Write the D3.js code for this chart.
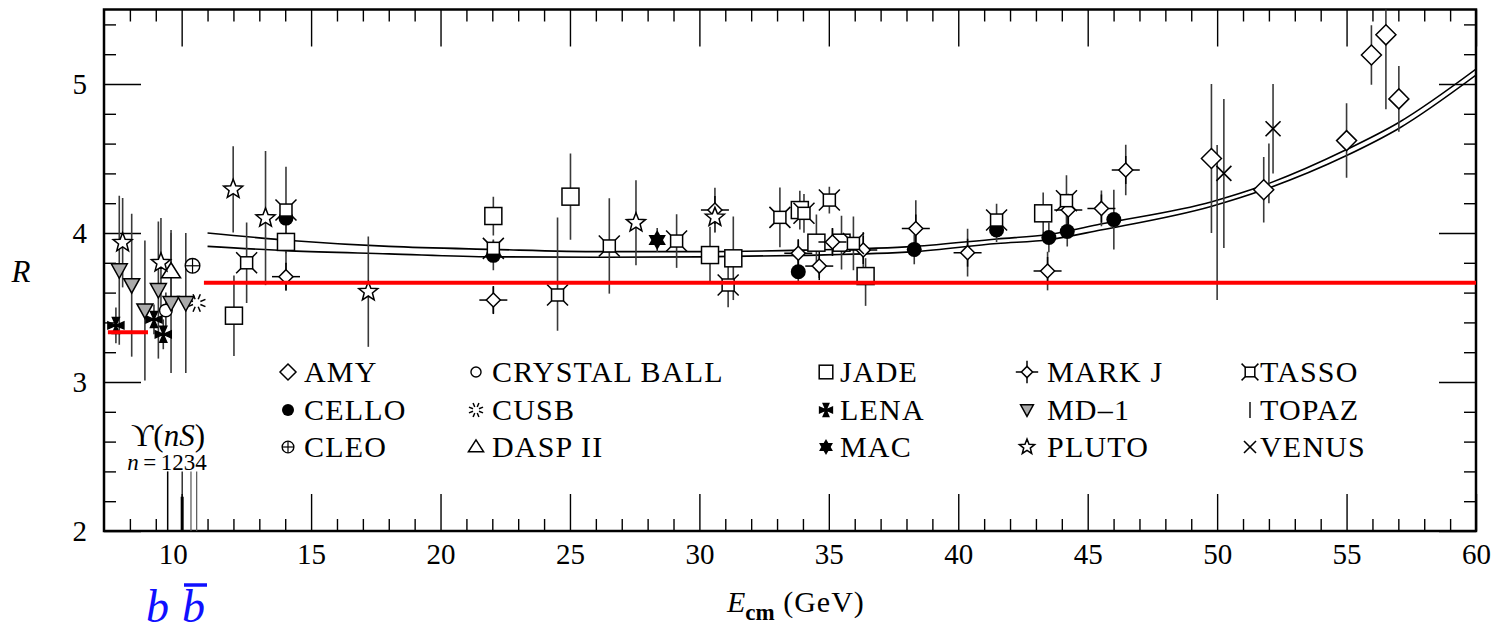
<!DOCTYPE html>
<html>
<head>
<meta charset="utf-8">
<script src="https://cdn.jsdelivr.net/npm/d3@7"></script>
<style>
  body { margin: 0; background: #fff; }
</style>
</head>
<body>
<svg id="chart" width="1499" height="636" style="font-family: 'Liberation Serif', 'DejaVu Serif', 'Times New Roman', serif;"></svg>
<script>
// measurements: [E_cm, R, error down, error up]
const amy = [[49.78, 4.50, 0.5, 0.5], [51.8, 4.29, 0.22, 0.22], [55.0, 4.62, 0.25, 0.25],
  [55.96, 5.195, 0.2, 0.2], [56.52, 5.33, 0.5, 0.5], [57.02, 4.90, 0.22, 0.22]];
const cello = [[14.03, 4.10, 0.08, 0.08], [22.04, 3.85, 0.1, 0.1], [33.82, 3.74, 0.08, 0.08],
  [38.3, 3.89, 0.1, 0.1], [41.48, 4.02, 0.08, 0.08], [43.5, 3.97, 0.1, 0.1],
  [44.21, 4.01, 0.1, 0.1], [46.01, 4.09, 0.2, 0.2]];
const cleo = [[10.42, 3.78, 0, 0]];
const crystalBall = [[9.39, 3.48, 0.12, 0.12]];
const cusb = [[10.58, 3.53, 0, 0]];
const daspII = [[9.59, 3.74, 0.28, 0.28]];
const jade = [[12.02, 3.445, 0.27, 0.27], [14.03, 3.94, 0.15, 0.15], [22.04, 4.114, 0.13, 0.13],
  [25.02, 4.244, 0.29, 0.29], [30.41, 3.852, 0.19, 0.19], [31.31, 3.83, 0.28, 0.28],
  [33.88, 4.154, 0.13, 0.13], [34.52, 3.935, 0.19, 0.19], [35.49, 3.935, 0.18, 0.18],
  [36.42, 3.711, 0.2, 0.12], [43.28, 4.132, 0.14, 0.14]];
const lena = [[7.46, 3.38, 0.12, 0.12], [8.93, 3.42, 0.1, 0.1], [9.29, 3.32, 0.1, 0.1]];
const mac = [[28.37, 3.953, 0.08, 0.08]];
const markJ = [[14.03, 3.707, 0.09, 0.09], [22.04, 3.55, 0.09, 0.09], [30.6, 4.154, 0.15, 0.15],
  [33.82, 3.864, 0.09, 0.09], [34.63, 3.778, 0.08, 0.08], [35.14, 3.94, 0.09, 0.09],
  [36.33, 3.886, 0.12, 0.12], [38.36, 4.03, 0.19, 0.19], [40.36, 3.868, 0.16, 0.16],
  [43.45, 3.745, 0.13, 0.13], [44.25, 4.154, 0.11, 0.11], [45.53, 4.165, 0.12, 0.12],
  [46.47, 4.423, 0.17, 0.17]];
const md1 = [[7.59, 3.75, 0.5, 0.5], [8.07, 3.65, 0.48, 0.48], [8.58, 3.48, 0.47, 0.47],
  [9.10, 3.617, 0.46, 0.46], [9.59, 3.53, 0.47, 0.47], [10.16, 3.53, 0.47, 0.47]];
const pluto = [[7.72, 3.935, 0.3, 0.3], [9.2, 3.80, 0.3, 0.3], [11.99, 4.293, 0.29, 0.29],
  [13.24, 4.10, 0.45, 0.45], [17.21, 3.606, 0.37, 0.37], [27.55, 4.069, 0.285, 0.285],
  [30.6, 4.105, 0.1, 0.1]];
const tasso = [[12.51, 3.80, 0.27, 0.27], [14.03, 4.154, 0.29, 0.29], [22.04, 3.897, 0.06, 0.06],
  [24.52, 3.584, 0.24, 0.52], [26.52, 3.913, 0.32, 0.32], [29.12, 3.946, 0.18, 0.18],
  [31.11, 3.651, 0.15, 0.15], [33.11, 4.105, 0.2, 0.2], [34.04, 4.132, 0.13, 0.13],
  [35.02, 4.221, 0.09, 0.09], [35.95, 3.93, 0.18, 0.18], [41.48, 4.087, 0.11, 0.11],
  [44.18, 4.217, 0.17, 0.17]];
const topaz = [[50.0, 4.07, 0.52, 0.52], [52.0, 4.40, 0.2, 0.2]];
const venus = [[50.26, 4.40, 0.5, 0.5], [52.16, 4.70, 0.3, 0.3]];

// theory curves
const curveE = [11.0, 14.2, 18, 22, 26.2, 30, 34, 38.3, 41.5, 43.5, 45.5, 49.8, 51.8, 55, 57, 60];
const curveUpper = [4.00, 3.95, 3.91, 3.89, 3.875, 3.875, 3.885, 3.91, 3.96, 3.99, 4.06, 4.21, 4.32, 4.56, 4.74, 5.10];
const curveLower = [3.91, 3.88, 3.86, 3.84, 3.837, 3.84, 3.85, 3.875, 3.93, 3.955, 4.02, 4.18, 4.29, 4.52, 4.70, 5.06];

// parton-model levels (red) and Upsilon resonances
const redStart = [7.15, 10.86];
const redEnd = [8.7, 60];
const redLevel = [10 / 3, 11 / 3];
const upsilonMass = [9.46, 10.02, 10.36, 10.58];
const upsilonTop = [2.40, 2.40, 2.40, 2.40];

const xTicks = [10, 15, 20, 25, 30, 35, 40, 45, 50, 55, 60];
const yTicks = [2, 3, 4, 5];

const series = [
  {name: "AMY", data: amy}, {name: "CELLO", data: cello}, {name: "CLEO", data: cleo},
  {name: "CRYSTAL BALL", data: crystalBall}, {name: "CUSB", data: cusb}, {name: "DASP II", data: daspII},
  {name: "JADE", data: jade}, {name: "LENA", data: lena}, {name: "MAC", data: mac},
  {name: "MARK J", data: markJ}, {name: "MD-1", data: md1}, {name: "PLUTO", data: pluto},
  {name: "TASSO", data: tasso}, {name: "TOPAZ", data: topaz}, {name: "VENUS", data: venus}
];
const legendLabels = ["AMY", "CELLO", "CLEO", "CRYSTAL BALL", "CUSB", "DASP II", "JADE", "LENA", "MAC",
  "MARK J", "MD\u20131", "PLUTO", "TASSO", "TOPAZ", "VENUS"];

const FONT = "'Liberation Serif', 'DejaVu Serif', 'Times New Roman', serif";
const svg = d3.select("#chart");
const plotL = 104, plotR = 1476, plotT = 9.5, plotB = 531;
const x = d3.scaleLinear().domain([7, 60]).range([plotL, plotR]);
const y = d3.scaleLinear().domain([2, 5.5]).range([plotB, plotT]);

svg.append("defs").append("clipPath").attr("id", "plotclip")
  .append("rect").attr("x", plotL).attr("y", plotT).attr("width", plotR - plotL).attr("height", plotB - plotT);

// ---------- axes ----------
const xMinor = d3.range(8, 60).filter(v => v % 5 !== 0);
const yMinor = d3.range(2.2, 5.5, 0.2).filter(v => Math.abs(v - Math.round(v)) > 0.01);

function styleAxis(g) {
  g.attr("font-family", null).attr("font-size", null);
  g.select(".domain").remove();
  g.selectAll(".tick line").attr("stroke", "#000").attr("stroke-width", 1.4);
  g.selectAll(".tick text").style("font-size", "29px").attr("fill", "#000");
}

svg.append("g").attr("transform", `translate(0,${plotB})`)
  .call(d3.axisBottom(x).tickValues(xTicks).tickSize(-37).tickPadding(12).tickFormat(d3.format("d")))
  .call(styleAxis)
  .selectAll(".tick text").attr("dx", d => d === 10 ? -9 : 0);
svg.append("g").attr("transform", `translate(0,${plotB})`)
  .call(d3.axisBottom(x).tickValues(xMinor).tickSize(-12).tickFormat(""))
  .call(styleAxis);
svg.append("g").attr("transform", `translate(0,${plotT})`)
  .call(d3.axisTop(x).tickValues(xTicks).tickSize(-37).tickFormat(""))
  .call(styleAxis);
svg.append("g").attr("transform", `translate(0,${plotT})`)
  .call(d3.axisTop(x).tickValues(xMinor).tickSize(-12).tickFormat(""))
  .call(styleAxis);
svg.append("g").attr("transform", `translate(${plotL},0)`)
  .call(d3.axisLeft(y).tickValues(yTicks).tickSize(-37).tickPadding(17).tickFormat(d3.format("d")))
  .call(styleAxis);
svg.append("g").attr("transform", `translate(${plotL},0)`)
  .call(d3.axisLeft(y).tickValues(yMinor).tickSize(-12).tickFormat(""))
  .call(styleAxis);
svg.append("g").attr("transform", `translate(${plotR},0)`)
  .call(d3.axisRight(y).tickValues(yTicks).tickSize(-37).tickFormat(""))
  .call(styleAxis);
svg.append("g").attr("transform", `translate(${plotR},0)`)
  .call(d3.axisRight(y).tickValues(yMinor).tickSize(-12).tickFormat(""))
  .call(styleAxis);

svg.append("rect").attr("x", plotL).attr("y", plotT).attr("width", plotR - plotL).attr("height", plotB - plotT)
  .attr("fill", "none").attr("stroke", "#000").attr("stroke-width", 2.5);

// axis titles
svg.append("text").attr("x", 21).attr("y", 282).attr("text-anchor", "middle")
  .style("font-size", "31px").style("font-style", "italic").text("R");

const xt = svg.append("text").attr("x", 727).attr("y", 612).style("font-size", "30px");
xt.append("tspan").style("font-style", "italic").text("E");
xt.append("tspan").attr("dy", 8).style("font-size", "23px").style("font-weight", "bold").text("cm");
xt.append("tspan").attr("dy", -8).style("letter-spacing", "1px").text(" (GeV)");

// b bbar
svg.append("text").attr("x", 146).attr("y", 622).style("font-size", "46px").style("font-style", "italic")
  .style("fill", "#1010ff").text("b");
svg.append("text").attr("x", 182).attr("y", 622).style("font-size", "46px").style("font-style", "italic")
  .style("fill", "#1010ff").text("b");
svg.append("line").attr("x1", 184).attr("x2", 207).attr("y1", 585).attr("y2", 585)
  .attr("stroke", "#1010ff").attr("stroke-width", 3.5);

// ---------- plot content ----------
const plot = svg.append("g").attr("clip-path", "url(#plotclip)");

// Upsilon resonances
plot.selectAll(".ups").data(upsilonMass).enter().append("line")
  .attr("x1", d => x(d)).attr("x2", d => x(d))
  .attr("y1", (d, i) => y(upsilonTop[i])).attr("y2", y(2))
  .attr("stroke", (d, i) => i < 2 ? "#000" : "#555").attr("stroke-width", (d, i) => i === 0 ? 1.5 : 1.2);
plot.append("line").attr("x1", x(upsilonMass[1])).attr("x2", x(upsilonMass[1]))
  .attr("y1", y(2.23)).attr("y2", y(2)).attr("stroke", "#000").attr("stroke-width", 3);

const ut = svg.append("text").attr("x", 168).attr("y", 446).attr("text-anchor", "middle").style("font-size", "31px");
ut.append("tspan").text("\u03D2(");
ut.append("tspan").style("font-style", "italic").text("nS");
ut.append("tspan").text(")");
const nt = svg.append("text").attr("x", 167).attr("y", 470).attr("text-anchor", "middle").style("font-size", "23px");
nt.append("tspan").style("font-style", "italic").text("n");
nt.append("tspan").text("\u2009=\u20091234");

// theory curves
const line = d3.line().x(d => x(d[0])).y(d => y(d[1])).curve(d3.curveMonotoneX);
[curveUpper, curveLower].forEach(c => {
  plot.append("path").datum(curveE.map((e, i) => [e, c[i]])).attr("d", line)
    .attr("fill", "none").attr("stroke", "#000").attr("stroke-width", 1.6);
});

// error bars
series.forEach(s => {
  plot.selectAll(null).data(s.data.filter(d => d[2] > 0 || d[3] > 0)).enter().append("line")
    .attr("x1", d => x(d[0])).attr("x2", d => x(d[0]))
    .attr("y1", d => y(d[1] + d[3])).attr("y2", d => y(d[1] - d[2]))
    .attr("stroke", "#3a3a3a").attr("stroke-width", 1.6);
});

function starPath(ro, ri, n) {
  const pts = [];
  for (let i = 0; i < 2 * n; i++) {
    const a = -Math.PI / 2 + i * Math.PI / n;
    const r = i % 2 ? ri : ro;
    pts.push([r * Math.cos(a), r * Math.sin(a)]);
  }
  return "M" + pts.map(p => p[0].toFixed(2) + "," + p[1].toFixed(2)).join("L") + "Z";
}

function drawMarker(g, type, k) {
  const s = v => v * k;
  const ln = (x1, y1, x2, y2, w) => g.append("line").attr("x1", s(x1)).attr("y1", s(y1))
    .attr("x2", s(x2)).attr("y2", s(y2)).attr("stroke", "#000").attr("stroke-width", w || 1.5);
  const pth = (d, fill) => g.append("path").attr("d", d).attr("fill", fill)
    .attr("stroke", "#000").attr("stroke-width", 1.5).attr("stroke-linejoin", "miter");
  switch (type) {
    case "AMY":
      pth(`M0,${s(-10)}L${s(10)},0L0,${s(10)}L${s(-10)},0Z`, "#fff"); break;
    case "CELLO":
      g.append("circle").attr("r", s(7.5)).attr("fill", "#000"); break;
    case "CLEO":
      g.append("circle").attr("r", s(7.3)).attr("fill", "#fff").attr("stroke", "#000").attr("stroke-width", 1.4);
      ln(-7.3, 0, 7.3, 0, 1.2); ln(0, -7.3, 0, 7.3, 1.2); break;
    case "CRYSTAL BALL":
      g.append("circle").attr("r", s(6.3)).attr("fill", "#fff").attr("stroke", "#000").attr("stroke-width", 1.4); break;
    case "CUSB":
      for (let i = 0; i < 8; i++) {
        const a = i * Math.PI / 4 + Math.PI / 8;
        ln(4 * Math.cos(a), 4 * Math.sin(a), 9.5 * Math.cos(a), 9.5 * Math.sin(a), 1.5);
      }
      break;
    case "DASP II":
      pth(`M0,${s(-9)}L${s(9.5)},${s(6)}L${s(-9.5)},${s(6)}Z`, "#fff"); break;
    case "JADE":
      g.append("rect").attr("x", s(-8.5)).attr("y", s(-8.5)).attr("width", s(17)).attr("height", s(17))
        .attr("fill", "#fff").attr("stroke", "#000").attr("stroke-width", 1.5); break;
    case "LENA":
      pth(`M0,0L${s(-3.5)},${s(-8)}L${s(3.5)},${s(-8)}Z M0,0L${s(8)},${s(-3.5)}L${s(8)},${s(3.5)}Z ` +
        `M0,0L${s(3.5)},${s(8)}L${s(-3.5)},${s(8)}Z M0,0L${s(-8)},${s(3.5)}L${s(-8)},${s(-3.5)}Z`, "#000"); break;
    case "MAC":
      g.append("path").attr("d", `M0,${s(-10)}L${s(8.7)},${s(5)}L${s(-8.7)},${s(5)}Z`).attr("fill", "#000");
      g.append("path").attr("d", `M0,${s(10)}L${s(-8.7)},${s(-5)}L${s(8.7)},${s(-5)}Z`).attr("fill", "#000");
      break;
    case "MARK J":
      ln(-14, 0, -6.5, 0); ln(6.5, 0, 14, 0); ln(0, -14, 0, -6.5); ln(0, 6.5, 0, 14);
      pth(`M0,${s(-7)}L${s(7)},0L0,${s(7)}L${s(-7)},0Z`, "#fff"); break;
    case "MD-1":
      pth(`M${s(-8)},${s(-6.5)}L${s(8)},${s(-6.5)}L0,${s(8)}Z`, "#aaaaaa"); break;
    case "PLUTO":
      pth(starPath(s(10), s(4.3), 5), "#fff"); break;
    case "TASSO":
      ln(-6, -6, -10.5, -10.5); ln(6, -6, 10.5, -10.5); ln(6, 6, 10.5, 10.5); ln(-6, 6, -10.5, 10.5);
      g.append("rect").attr("x", s(-6)).attr("y", s(-6)).attr("width", s(12)).attr("height", s(12))
        .attr("fill", "#fff").attr("stroke", "#000").attr("stroke-width", 1.5); break;
    case "TOPAZ":
      if (k < 1) ln(0, -10, 0, 10, 1.4);
      break;
    case "VENUS":
      ln(-7.5, -7.5, 7.5, 7.5, 1.6); ln(-7.5, 7.5, 7.5, -7.5, 1.6); break;
  }
}

// markers
series.forEach(s => {
  plot.selectAll(null).data(s.data).enter().append("g")
    .attr("transform", d => `translate(${x(d[0])},${y(d[1])})`)
    .each(function () { drawMarker(d3.select(this), s.name, 1); });
});

// red levels
plot.selectAll(".red").data(redLevel).enter().append("line")
  .attr("x1", (d, i) => x(redStart[i])).attr("x2", (d, i) => x(redEnd[i]))
  .attr("y1", d => y(d)).attr("y2", d => y(d))
  .attr("stroke", "#ff0000").attr("stroke-width", 4);

// ---------- legend ----------
const legSymX = [288, 476, 826, 1027, 1250];
const legTextX = [16, 16, 14, 20, 10];
const legRowY = [372, 410, 447];
series.forEach((s, i) => {
  const col = Math.floor(i / 3), row = i % 3;
  const g = svg.append("g").attr("transform", `translate(${legSymX[col]},${legRowY[row]})`);
  drawMarker(g.append("g"), s.name, 0.8);
  g.append("text").attr("x", legTextX[col]).attr("y", 10).style("font-size", "30px")
    .style("letter-spacing", "1.2px").text(legendLabels[i]);
});

svg.selectAll("text").style("font-family", FONT);
</script>
</body>
</html>
